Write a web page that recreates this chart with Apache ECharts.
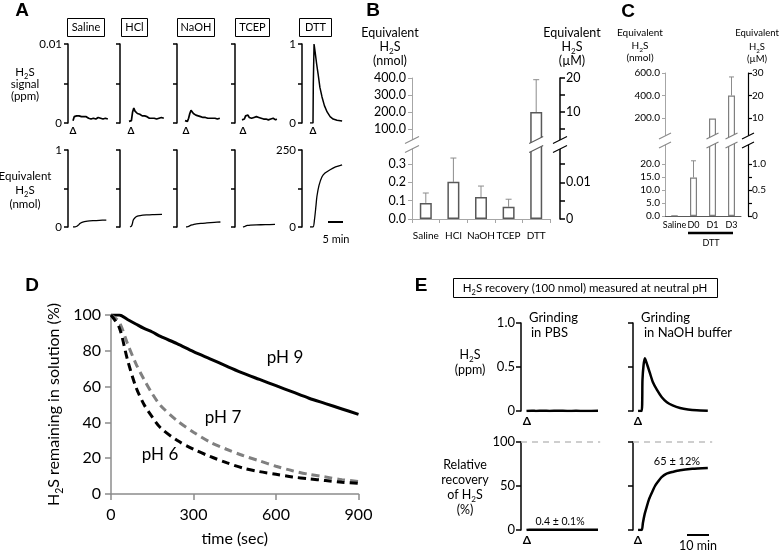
<!DOCTYPE html>
<html><head><meta charset="utf-8">
<script src="https://cdn.jsdelivr.net/npm/echarts@6/dist/echarts.min.js"></script>
<style>html,body{margin:0;padding:0;background:#fff}#c{width:781px;height:550px}</style>
</head><body><div id="c"></div>
<script>
const FONT = 'Lato, "Open Sans", "DejaVu Sans", sans-serif';
const LETTER_FONT = '"Liberation Sans", Arial, sans-serif';

// ---------------- Panel A data ----------------
const aNames = ['Saline', 'HCl', 'NaOH', 'TCEP', 'DTT'];
const aNoiseT = [-0.8,-0.4,0,0.4,0.8,1.2,1.6,2,2.4,2.8,3.2,3.6,4,4.4,4.8,5.2,5.6,6,6.4,6.8,7.2,7.6,8,8.4,8.8,9.2,9.6,10,10.4,10.8];
const aSalineTop = [0.0003,0.0008,0.0007,0.0009,0.0008,0.0009,0.0007,0.0008,0.0007,0.0008,0.0006,0.0008,0.0007,0.0006,0.0007,0.0005,0.0007,0.0006,0.0007,0.0005,0.0006,0.0007,0.0005,0.0006,0.0007,0.0005,0.0006,0.0006,0.0007,0.0005];
const aHClTop = [0.0002,0.0001,0.0003,0.0014,0.0019,0.0015,0.0013,0.0012,0.0010,0.0011,0.0009,0.0009,0.0008,0.0009,0.0007,0.0008,0.0007,0.0006,0.0008,0.0006,0.0007,0.0006,0.0007,0.0005,0.0007,0.0006,0.0005,0.0007,0.0006,0.0006];
const aNaOHTop = [0.0003,0.0001,0.0002,0.0006,0.0012,0.0016,0.0014,0.0012,0.0011,0.0010,0.0010,0.0009,0.0009,0.0008,0.0009,0.0007,0.0008,0.0007,0.0007,0.0006,0.0007,0.0006,0.0007,0.0006,0.0005,0.0006,0.0007,0.0005,0.0006,0.0006];
const aTCEPTop = [0.0004,0.0006,0.0005,0.0009,0.0008,0.0010,0.0007,0.0008,0.0006,0.0008,0.0007,0.0006,0.0008,0.0006,0.0007,0.0005,0.0006,0.0007,0.0005,0.0006,0.0005,0.0006,0.0004,0.0006,0.0005,0.0004,0.0006,0.0005,0.0004,0.0005];
const aDTTTop = [[-1,0],[0,0],[0.1,0.5],[0.35,1],[0.7,0.9],[1.2,0.75],[1.7,0.62],[2.3,0.45],[3,0.33],[3.8,0.22],[4.7,0.14],[5.7,0.08],[6.7,0.05],[8,0.035],[9.7,0.025]];
const aSalineBottom = [[-0.8,0],[0,0.003],[0.5,0.01],[1,0.025],[1.5,0.045],[2,0.058],[3,0.07],[4,0.077],[6,0.083],[8,0.087],[10.3,0.09]];
const aHClBottom = [[-0.47,0],[0,0.01],[0.3,0.04],[0.63,0.09],[1.2,0.12],[2,0.14],[2.9,0.148],[5,0.157],[7,0.162],[10.2,0.165]];
const aNaOHBottom = [[-0.47,0],[0,0.002],[0.5,0.01],[1,0.02],[1.5,0.027],[2,0.032],[3,0.04],[4.5,0.047],[6.5,0.053],[9,0.06],[11,0.065]];
const aTCEPBottom = [[-0.47,0],[0,0.005],[0.5,0.015],[1,0.02],[2,0.025],[4,0.028],[7,0.03],[10.2,0.033]];
const aDTTBottom = [[-1,0],[0,0],[0.5,25],[1,70],[1.3,99],[2,135],[3,163],[4,175],[5.7,186],[7.5,195],[9.7,202]];
const aTopMax = [0.01, 0.01, 0.01, 0.01, 1];
const aBottomMax = [1, 1, 1, 1, 250];

// ---------------- Panel B data ----------------
const bCats = ['Saline', 'HCl', 'NaOH', 'TCEP', 'DTT'];
const bMean = [0.088, 0.203, 0.12, 0.067, 200];
const bSD = [0.054, 0.13, 0.06, 0.041, 190];
const bLowTicks = [0, 0.1, 0.2, 0.3];
const bHighTicks = [100, 200, 300, 400];
const bRightLowTicks = [0, 0.005, 0.01, 0.015];
const bRightLowLabels = [0, 0.01];
const bRightHighTicks = [5, 10, 15, 20];
const bRightHighLabels = [10, 20];

// ---------------- Panel C data ----------------
const cCats = ['Saline', 'D0', 'D1', 'D3'];
const cMean = [0.2, 14.8, 195, 400];
const cSD = [0, 6.4, 0, 165];
const cLowTicks = [0, 5, 10, 15, 20];
const cHighTicks = [200, 400, 600];
const cRightLowTicks = [0, 0.25, 0.5, 0.75, 1];
const cRightLowLabels = [0, 0.5, 1];
const cRightHighTicks = [10, 20, 30];

// ---------------- Panel D data ----------------
const dTime = [0,30,60,90,120,150,180,240,300,360,420,480,540,600,660,720,780,840,900];
const dPH9 = [100,100,97.5,95,92.5,90.5,88,84,79.5,75.5,71.5,67.5,64,60.5,57,53.5,50.5,47.5,44.5];
const dPH7 = [100,96,84,73,64,56,49.5,41,34.5,29,25,21.5,18.5,15.5,13,11,9.5,8,7];
const dPH6 = [100,93,75,60,50,43,37,30,25,21,17.5,14.5,12.5,11,9.5,8.5,7.5,6.5,6];

// ---------------- Panel E data ----------------
const ePBSTop = [[-0.5,0],[2,0.004],[4,0],[7,0.003],[10,0],[14,0.003],[18,0],[22,0.002],[26,0],[32,0.002]];
const eNaOHTop = [[-0.7,0],[0.95,0],[1.3,0.35],[1.8,0.52],[2.4,0.6],[3,0.56],[3.8,0.5],[4.7,0.43],[6,0.33],[7.9,0.24],[10,0.16],[12.4,0.1],[15,0.065],[18.4,0.035],[22,0.018],[26,0.008],[31,0.003]];
const ePBSBottom = [[-0.5,0],[1,0.4],[32,0.4]];
const eNaOHBottom = [[-0.7,0],[1,0],[1.5,8],[2.3,18],[3.2,26],[4.3,35],[5.5,42],[7,50],[8.4,55],[10,60],[12.3,64],[15,66],[18.4,68],[24,69.5],[31,70.5]];

// ---------------- build ----------------
const black = '#000';
const grid = [], xAxis = [], yAxis = [], series = [];
function G(left, top, width, height) { grid.push({left, top, width, height, containLabel: false, outerBoundsMode: 'none'}); return grid.length - 1; }
function X(o) { xAxis.push(o); return xAxis.length - 1; }
function Y(o) { yAxis.push(Object.assign({type: 'value', splitLine: {show: false}}, o)); return yAxis.length - 1; }
function axisY(gi, min, max, ticks, labels, fmt, o = {}) {
  const color = o.color || black;
  return Y({
    gridIndex: gi, min, max, position: o.position || 'left', offset: o.offset || 0,
    axisLine: {show: true, onZero: false, lineStyle: {color, width: o.lw || 1.5}},
    axisTick: {show: true, length: o.tickLen || 4, inside: false, customValues: ticks, lineStyle: {color, width: o.lw || 1.5}},
    axisLabel: labels.length ? {show: true, customValues: labels, formatter: fmt, fontSize: o.fs || 12, color: black, fontFamily: FONT, margin: o.margin || 6} : {show: false}
  });
}
function L(xi, yi, data, o = {}) {
  series.push(Object.assign({type: 'line', xAxisIndex: xi, yAxisIndex: yi, data, showSymbol: false, symbol: 'none', silent: true, animation: false, clip: true,
    lineStyle: {color: black, width: 1.3}}, o));
  return series.length - 1;
}
const zip = (t, v) => t.map((x, i) => [x, v[i]]);

// Panel A
const aAxisX = [68, 120, 177, 235, 302];
const aXMin = [-2.47, -3.8, -3.47, -3.13, -3.67];
const aTopData = [zip(aNoiseT, aSalineTop), zip(aNoiseT, aHClTop), zip(aNoiseT, aNaOHTop), zip(aNoiseT, aTCEPTop), aDTTTop];
const aBottomData = [aSalineBottom, aHClBottom, aNaOHBottom, aTCEPBottom, aDTTBottom];
for (let i = 0; i < 5; i++) {
  const showLab = (i === 0 || i === 4);
  const gt = G(aAxisX[i], 44, 45, 79);
  const xt = X({gridIndex: gt, type: 'value', min: aXMin[i], max: aXMin[i] + 15, show: false});
  const mt = aTopMax[i];
  const yt = axisY(gt, 0, mt, [0, mt / 2, mt], showLab ? [0, mt] : [], v => String(v), {fs: 11.5});
  L(xt, yt, aTopData[i], {lineStyle: {color: black, width: i < 4 ? 1.7 : 1.5}});
  const gb = G(aAxisX[i], 150, 45, 77);
  const xb = X({gridIndex: gb, type: 'value', min: aXMin[i], max: aXMin[i] + 15, show: false});
  const mb = aBottomMax[i];
  const yb = axisY(gb, 0, mb, [0, mb / 2, mb], showLab ? [0, mb] : [], v => String(v), {fs: 11.5});
  L(xb, yb, aBottomData[i], {smooth: 0.3, lineStyle: {color: black, width: 1.3}});
}

// error bar helper
function errSeries(xi, yi, means, sds, filter, color, capW) {
  const data = [];
  means.forEach((m, i) => { if (sds[i] > 0 && filter(m, sds[i])) data.push([i, m, m + sds[i]]); });
  series.push({type: 'custom', xAxisIndex: xi, yAxisIndex: yi, data, z: 1, silent: true, animation: false,
    encode: {x: 0, y: [1, 2]},
    renderItem: (params, api) => {
      const p0 = api.coord([api.value(0), api.value(1)]);
      const p1 = api.coord([api.value(0), api.value(2)]);
      return {type: 'group', children: [
        {type: 'line', shape: {x1: p0[0], y1: p0[1], x2: p1[0], y2: p1[1]}, style: {stroke: color, lineWidth: 1}},
        {type: 'line', shape: {x1: p1[0] - capW, y1: p1[1], x2: p1[0] + capW, y2: p1[1]}, style: {stroke: color, lineWidth: 1}}
      ]};
    }});
}

// Panel B
const bLowMax = 0.407, bHighMin = 9, bHighMax = 400, bToMicro = 20;
const gBL = G(412, 144.5, 138, 74.5);
const gBH = G(412, 78, 138, 66.5);
const xBL = X({gridIndex: gBL, type: 'category', data: bCats,
  axisLine: {show: true, onZero: false, lineStyle: {color: '#a6a6a6', width: 1}},
  axisTick: {show: true, alignWithLabel: false, length: 4, lineStyle: {color: '#a6a6a6'}},
  axisLabel: {fontSize: 10, color: black, fontFamily: FONT, margin: 12, interval: 0}});
const xBH = X({gridIndex: gBH, type: 'category', data: bCats, show: false});
const yBL = axisY(gBL, 0, bLowMax, bLowTicks, bLowTicks, v => v.toFixed(1), {color: '#a6a6a6', lw: 1, fs: 12.5});
axisY(gBL, 0, bLowMax / bToMicro, bRightLowTicks, bRightLowLabels, v => String(v), {position: 'right', offset: 10, tickLen: 5, fs: 12.5});
const yBH = axisY(gBH, bHighMin, bHighMax, bHighTicks, bHighTicks, v => v.toFixed(1), {color: '#a6a6a6', lw: 1, fs: 12.5});
axisY(gBH, bHighMin / bToMicro, bHighMax / bToMicro, bRightHighTicks, bRightHighLabels, v => String(v), {position: 'right', offset: 10, tickLen: 5, fs: 12.5});
const barStyleB = {color: '#fff', borderColor: '#595959', borderWidth: 1.5};
series.push({type: 'bar', xAxisIndex: xBL, yAxisIndex: yBL, data: bMean, barWidth: 12, itemStyle: barStyleB, z: 3, silent: true, animation: false, clip: true});
series.push({type: 'bar', xAxisIndex: xBH, yAxisIndex: yBH, data: bMean.map(v => v > bLowMax ? v : '-'), barWidth: 12, itemStyle: barStyleB, z: 3, silent: true, animation: false, clip: true});
errSeries(xBL, yBL, bMean, bSD, (m, s) => m + s < bLowMax, '#8c8c8c', 3);
errSeries(xBH, yBH, bMean, bSD, (m, s) => m > bLowMax, '#8c8c8c', 3);

// Panel C
const cLowMax = 29, cHighMax = 600, cToMicro = 20;
const gCL = G(665, 140.5, 76, 75.5);
const gCH = G(665, 73, 76, 67.5);
const xCL = X({gridIndex: gCL, type: 'category', data: cCats,
  axisLine: {show: true, onZero: false, lineStyle: {color: '#595959', width: 1}}, axisTick: {show: false},
  axisLabel: {fontSize: 9, color: black, fontFamily: FONT, margin: 5, interval: 0}});
const xCH = X({gridIndex: gCH, type: 'category', data: cCats, show: false});
const yCL = axisY(gCL, 0, cLowMax, cLowTicks, cLowTicks, v => v.toFixed(1), {color: '#a6a6a6', lw: 1, fs: 10, margin: 5, tickLen: 3});
axisY(gCL, 0, cLowMax / cToMicro, cRightLowTicks, cRightLowLabels, v => v === 0 ? '0' : v.toFixed(1), {position: 'right', offset: 7, tickLen: 4, fs: 10, lw: 1.2, margin: 4});
const yCH = axisY(gCH, 0, cHighMax, cHighTicks, cHighTicks, v => v.toFixed(1), {color: '#a6a6a6', lw: 1, fs: 10, margin: 5, tickLen: 3});
axisY(gCH, 0, cHighMax / cToMicro, cRightHighTicks, cRightHighTicks, v => String(v), {position: 'right', offset: 7, tickLen: 4, fs: 10, lw: 1.2, margin: 4});
const barStyleC = {color: '#fff', borderColor: '#7f7f7f', borderWidth: 1.2};
series.push({type: 'bar', xAxisIndex: xCL, yAxisIndex: yCL, data: cMean, barWidth: 7, itemStyle: barStyleC, z: 3, silent: true, animation: false, clip: true});
series.push({type: 'bar', xAxisIndex: xCH, yAxisIndex: yCH, data: cMean.map(v => v > cLowMax ? v : '-'), barWidth: 7, itemStyle: barStyleC, z: 3, silent: true, animation: false, clip: true});
errSeries(xCL, yCL, cMean, cSD, (m, s) => m + s < cLowMax, '#8c8c8c', 2.5);
errSeries(xCH, yCH, cMean, cSD, (m, s) => m > cLowMax, '#8c8c8c', 2.5);

// Panel D
const gD = G(111, 315, 247.5, 179);
const dAxisStyle = {axisLine: {show: true, onZero: false, lineStyle: {color: '#8c8c8c', width: 1.5}},
  axisTick: {show: true, length: 6, inside: false, lineStyle: {color: '#8c8c8c', width: 1.5}}, splitLine: {show: false}};
const xD = X(Object.assign({gridIndex: gD, type: 'value', min: 0, max: 900, interval: 300,
  axisLabel: {fontSize: 16, color: black, fontFamily: FONT, margin: 13},
  name: 'time (sec)', nameLocation: 'middle', nameGap: 37, nameTextStyle: {fontSize: 16, color: black, fontFamily: FONT}}, dAxisStyle));
const yD = Y(Object.assign({gridIndex: gD, min: 0, max: 100, interval: 20,
  axisLabel: {fontSize: 16, color: black, fontFamily: FONT, margin: 10},
  name: '{a|H}{s|2}{a|S remaining in solution (%)}', nameLocation: 'middle', nameGap: 46,
  nameTextStyle: {color: black, rich: {
    a: {fontSize: 16, lineHeight: 22, fontFamily: FONT, color: black},
    s: {fontSize: 10.5, lineHeight: 22, fontFamily: FONT, color: black, verticalAlign: 'bottom'}}}}, dAxisStyle));
L(xD, yD, zip(dTime, dPH9), {smooth: 0.3, lineStyle: {color: black, width: 3}});
L(xD, yD, zip(dTime, dPH7), {smooth: 0.3, lineStyle: {color: '#808080', width: 3, type: [8, 5]}});
L(xD, yD, zip(dTime, dPH6), {smooth: 0.3, lineStyle: {color: black, width: 3, type: [8, 5]}});

// Panel E
const eX = [521, 633];
const eTopData = [ePBSTop, eNaOHTop];
const eBottomData = [ePBSBottom, eNaOHBottom];
for (let i = 0; i < 2; i++) {
  const gt = G(eX[i], 323, 79.2, 88);
  const xt = X({gridIndex: gt, type: 'value', min: -3, max: 33, show: false});
  const yt = axisY(gt, 0, 1, [0, 0.5, 1], i === 0 ? [0, 0.5, 1] : [], v => v === 0 ? '0' : v.toFixed(1), {fs: 13, tickLen: 5});
  L(xt, yt, eTopData[i], {smooth: 0.2, lineStyle: {color: black, width: 2.5}});
  const gb = G(eX[i], 442, 79.2, 88);
  const xb = X({gridIndex: gb, type: 'value', min: -3, max: 33, show: false});
  const yb = axisY(gb, 0, 100, [0, 50, 100], i === 0 ? [0, 50, 100] : [], v => String(v), {fs: 13, tickLen: 5});
  L(xb, yb, eBottomData[i], {smooth: 0.2, lineStyle: {color: black, width: 2.5},
    markLine: {symbol: 'none', silent: true, animation: false, label: {show: false},
      lineStyle: {type: [6, 5], color: '#bfbfbf', width: 1.5}, data: [{yAxis: 100}]}});
}

const chart = echarts.init(document.getElementById('c'), null, {renderer: 'canvas'});
chart.setOption({animation: false, backgroundColor: '#fff', textStyle: {fontFamily: FONT}, grid, xAxis, yAxis, series});

// ---------------- annotations ----------------
const g = [];
function T(x, y, text, size, o = {}) {
  g.push({type: 'text', x, y, z: 100, silent: true,
    style: Object.assign({text, fontSize: size, fontFamily: FONT, fill: black, align: 'center', verticalAlign: 'middle'}, o)});
}
function H2S(x, y, size, pre = '', post = '', o = {}) {
  T(x, y, '{a|' + pre + 'H}{s|2}{a|S' + post + '}', size, Object.assign({rich: {
    a: {fontSize: size, lineHeight: size + 5, fontFamily: FONT, fill: black},
    s: {fontSize: size * 0.65, lineHeight: size + 5, fontFamily: FONT, fill: black, verticalAlign: 'bottom'}}}, o));
}
function R(x, y, w, h, stroke = black) {
  g.push({type: 'rect', z: 100, silent: true, shape: {x, y, width: w, height: h}, style: {fill: 'none', stroke, lineWidth: 1}});
}
function Ln(x1, y1, x2, y2, w, color = black) {
  g.push({type: 'line', z: 100, silent: true, shape: {x1, y1, x2, y2}, style: {stroke: color, lineWidth: w}});
}
function brk(x, y0, color, hw, gap) {
  const s = hw / 2;
  g.push({type: 'polygon', z: 99, silent: true, shape: {points: [[x - hw, y0 + s], [x + hw, y0 - s], [x + hw, y0 - s + gap], [x - hw, y0 + s + gap]]}, style: {fill: '#fff', stroke: null}});
  Ln(x - hw, y0 + s, x + hw, y0 - s, 1.2, color);
  Ln(x - hw, y0 + s + gap, x + hw, y0 - s + gap, 1.2, color);
}
function letter(x, y, t) { T(x, y, t, 19, {fontFamily: LETTER_FONT, fontWeight: 'bold'}); }

letter(22, 11, 'A'); letter(373, 11, 'B'); letter(628, 12, 'C'); letter(32, 286, 'D'); letter(421, 286, 'E');

// Panel A labels
const aBox = [[67, 18, 37], [121, 18, 26], [177, 18, 37], [235, 18, 34], [299, 18, 32]];
aBox.forEach((b, i) => { R(b[0] + 0.5, b[1] + 0.5, b[2], 18); T(b[0] + b[2] / 2 + 0.5, b[1] + 9.5, aNames[i], 11); });
H2S(25, 72, 11.5); T(25, 84, 'signal', 11.5); T(25, 96, '(ppm)', 11.5);
T(25, 176, 'Equivalent', 11.5); H2S(25, 190, 11.5); T(25, 204, '(nmol)', 11.5);
[73, 131, 186, 243, 313].forEach(x => T(x, 131, 'Δ', 10, {fontWeight: 'bold'}));
Ln(328, 222, 343, 222, 2); T(336, 239, '5 min', 11);

// Panel B labels
T(390, 33, 'Equivalent', 12.5); H2S(390, 47, 12.5); T(390, 61, '(nmol)', 12.5);
T(572, 33, 'Equivalent', 12.5); H2S(572, 47, 12.5); T(572, 61, '(µM)', 12.5);
// Panel C labels
T(640, 33, 'Equivalent', 10); H2S(640, 46, 10); T(640, 58, '(nmol)', 10);
T(757, 33, 'Equivalent', 9.5); H2S(757, 47, 9.5); T(757, 59, '(µM)', 9.5);
Ln(688, 233, 733, 233, 2.5); T(711, 243, 'DTT', 9);

// Panel D labels
T(285, 358, 'pH 9', 17); T(223, 418, 'pH 7', 17); T(160, 455, 'pH 6', 17);

// Panel E labels
R(453.5, 278.5, 264, 19);
H2S(585, 288, 11.5, '', ' recovery (100 nmol) measured at neutral pH');
H2S(470, 355, 12.5); T(470, 370, '(ppm)', 12.5);
T(465, 465, 'Relative', 12.5); T(465, 480, 'recovery', 12.5); H2S(465, 495, 12.5, 'of '); T(465, 510, '(%)', 12.5);
T(529, 318, 'Grinding', 13, {align: 'left'}); T(531, 333, 'in PBS', 13, {align: 'left'});
T(641, 318, 'Grinding', 13, {align: 'left'}); T(644, 333, 'in NaOH buffer', 13, {align: 'left'});
T(560, 522, '0.4 ± 0.1%', 10.5); T(677, 461, '65 ± 12%', 11);
[[527, 421], [638, 421], [527, 540], [638, 540]].forEach(p => T(p[0], p[1], 'Δ', 12, {fontWeight: 'bold'}));
Ln(687, 535, 709, 535, 2); T(698, 546, '10 min', 12.5);

// break marks (positions from the axes)
const bBarX = chart.convertToPixel({xAxisIndex: xBH}, 'DTT');
brk(412, 140, '#8c8c8c', 7, 9);
brk(bBarX, 140, '#595959', 7, 9);
brk(560, 140, black, 7, 9);
const cD1 = chart.convertToPixel({xAxisIndex: xCH}, 'D1');
const cD3 = chart.convertToPixel({xAxisIndex: xCH}, 'D3');
brk(665, 136, '#8c8c8c', 6, 9);
brk(cD1, 136, '#7f7f7f', 6, 9);
brk(cD3, 136, '#7f7f7f', 6, 9);
brk(748, 136, black, 6, 9);

chart.setOption({graphic: g});
</script></body></html>
